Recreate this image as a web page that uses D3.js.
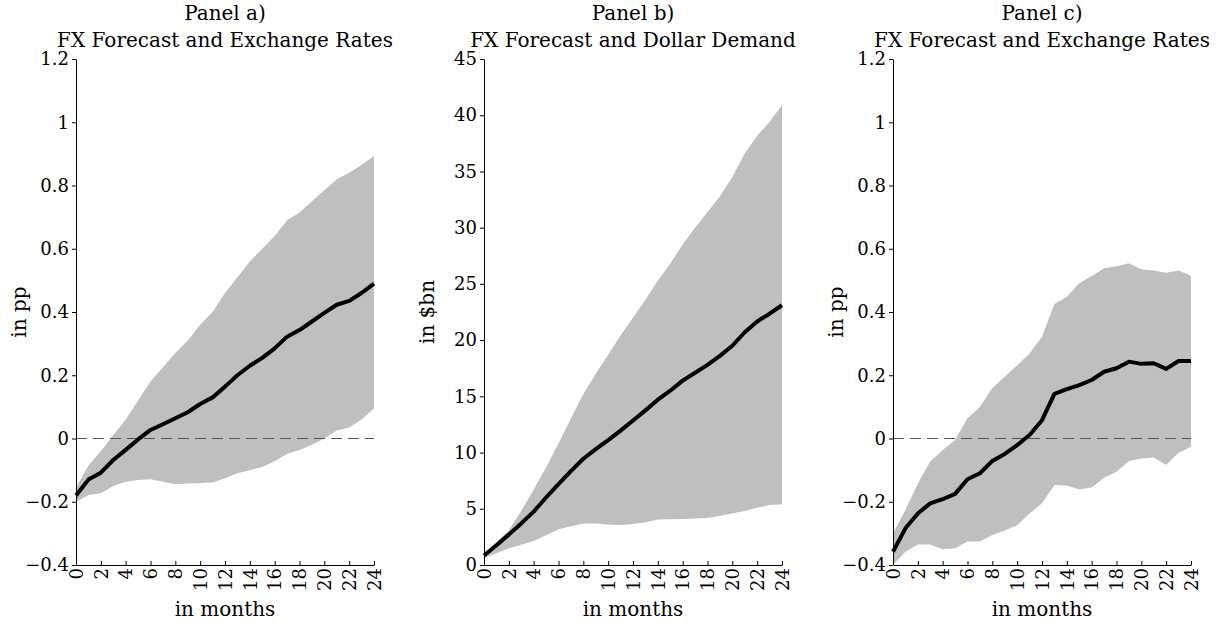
<!DOCTYPE html>
<html>
<head>
<meta charset="utf-8">
<script src="https://cdn.jsdelivr.net/npm/d3@7"></script>
<style>
  body { margin: 0; background: #fff; }
  text { font-family: "DejaVu Serif", serif; fill: #000; }
</style>
</head>
<body>
<div id="chart"></div>
<script>
// horizon in months
var months = d3.range(0, 25);

// Panel a) FX forecast shock -> exchange rate (pp)
var meanA  = [-0.18,-0.13,-0.108,-0.068,-0.036,-0.003,0.027,0.045,0.064,0.083,0.109,0.13,0.164,0.2,0.23,0.255,0.285,0.322,0.343,0.37,0.397,0.423,0.435,0.46,0.49];
var upperA = [-0.155,-0.085,-0.04,0.01,0.06,0.12,0.18,0.225,0.27,0.31,0.36,0.40,0.46,0.51,0.56,0.60,0.64,0.69,0.715,0.75,0.785,0.82,0.84,0.865,0.893];
var lowerA = [-0.2,-0.179,-0.173,-0.15,-0.137,-0.131,-0.129,-0.137,-0.145,-0.142,-0.141,-0.139,-0.126,-0.11,-0.1,-0.09,-0.072,-0.048,-0.036,-0.02,0.0,0.025,0.035,0.06,0.095];

// Panel b) FX forecast shock -> dollar demand ($bn)
var meanB  = [0.85,1.75,2.7,3.7,4.75,6.0,7.2,8.35,9.45,10.3,11.1,11.95,12.85,13.75,14.7,15.5,16.4,17.1,17.8,18.6,19.5,20.7,21.65,22.35,23.1];
var upperB = [1.0,2.0,3.1,4.8,6.7,8.7,10.8,13.0,15.2,17.0,18.7,20.4,22.0,23.6,25.3,26.8,28.5,30.0,31.4,32.8,34.5,36.6,38.2,39.4,40.9];
var lowerB = [0.6,1.05,1.48,1.8,2.13,2.65,3.17,3.45,3.7,3.7,3.6,3.56,3.65,3.8,4.04,4.07,4.1,4.14,4.18,4.37,4.57,4.8,5.1,5.33,5.4];

// Panel c) FX forecast shock -> exchange rate (pp), second specification
var meanC  = [-0.358,-0.284,-0.237,-0.205,-0.192,-0.175,-0.129,-0.11,-0.071,-0.049,-0.021,0.011,0.058,0.141,0.156,0.169,0.185,0.211,0.222,0.243,0.236,0.238,0.22,0.245,0.245];
var upperC = [-0.3,-0.226,-0.142,-0.073,-0.036,-0.005,0.064,0.1,0.16,0.195,0.232,0.269,0.322,0.425,0.448,0.491,0.514,0.538,0.545,0.554,0.535,0.531,0.524,0.531,0.515];
var lowerC = [-0.4,-0.358,-0.335,-0.335,-0.35,-0.347,-0.326,-0.326,-0.305,-0.291,-0.274,-0.237,-0.205,-0.147,-0.149,-0.161,-0.155,-0.124,-0.105,-0.071,-0.063,-0.06,-0.084,-0.045,-0.026];

var xTicks = d3.range(0, 25, 2);
var yTicksPP = [-0.4,-0.2,0,0.2,0.4,0.6,0.8,1,1.2];
var yTicksBn = [0,5,10,15,20,25,30,35,40,45];

var svg = d3.select("#chart").append("svg").attr("width", 1222).attr("height", 623);

function drawPanel(left, title1, title2, yLabel, yDomain, yTicks, mean, lower, upper, zeroLine) {
    var w = 298, top = 59, bottom = 565;
    var x = d3.scaleLinear().domain([0, 24]).range([left, left + w]);
    var y = d3.scaleLinear().domain(yDomain).range([bottom, top]);
    var g = svg.append("g");

    var band = d3.area()
        .x(function(d, i) { return x(months[i]); })
        .y0(function(d, i) { return y(lower[i]); })
        .y1(function(d, i) { return y(upper[i]); });
    g.append("path").datum(mean).attr("d", band).attr("fill", "#bfbfbf");

    if (zeroLine) {
        g.append("line")
            .attr("x1", x(0)).attr("x2", x(24))
            .attr("y1", y(0)).attr("y2", y(0))
            .attr("stroke", "#555").attr("stroke-width", 1)
            .attr("stroke-dasharray", "11,6");
    }

    var line = d3.line()
        .x(function(d, i) { return x(months[i]); })
        .y(function(d) { return y(d); });
    g.append("path").datum(mean).attr("d", line)
        .attr("fill", "none").attr("stroke", "#000").attr("stroke-width", 4)
        .attr("stroke-linejoin", "round");

    // y axis, ticks point outward
    var yAxis = g.append("g").attr("transform", "translate(" + left + ",0)")
        .call(d3.axisLeft(y).tickValues(yTicks).tickSize(4).tickSizeOuter(0).tickPadding(3)
            .tickFormat(function(d) { return d3.format("")(+d.toFixed(1)); }));
    // x axis, ticks point inward
    var xAxis = g.append("g").attr("transform", "translate(0," + bottom + ")")
        .call(d3.axisBottom(x).tickValues(xTicks).tickSize(-4).tickSizeOuter(0).tickPadding(0));
    xAxis.selectAll("text")
        .attr("transform", "rotate(-90)")
        .attr("text-anchor", "end")
        .attr("x", -3).attr("y", 0).attr("dy", "0.35em");

    [yAxis, xAxis].forEach(function(a) {
        a.selectAll("path, line").attr("stroke", "#000");
        a.selectAll("text").style("font-family", "DejaVu Serif").style("font-size", "18px").attr("fill", "#000");
    });

    var cx = left + w / 2;
    g.append("text").attr("x", cx).attr("y", 20).attr("text-anchor", "middle")
        .style("font-size", "20px").text(title1);
    g.append("text").attr("x", cx).attr("y", 47).attr("text-anchor", "middle")
        .style("font-size", "20px").text(title2);
    g.append("text").attr("x", cx).attr("y", 616).attr("text-anchor", "middle")
        .style("font-size", "20px").text("in months");
    g.append("text")
        .attr("transform", "translate(" + (left - 57) + "," + ((top + bottom) / 2) + ") rotate(-90)")
        .attr("text-anchor", "middle").attr("dy", "0.35em")
        .style("font-size", "20px").text(yLabel);
}

drawPanel(76, "Panel a)", "FX Forecast and Exchange Rates", "in pp", [-0.4, 1.2], yTicksPP, meanA, lowerA, upperA, true);
drawPanel(484, "Panel b)", "FX Forecast and Dollar Demand", "in $bn", [0, 45], yTicksBn, meanB, lowerB, upperB, false);
drawPanel(893, "Panel c)", "FX Forecast and Exchange Rates", "in pp", [-0.4, 1.2], yTicksPP, meanC, lowerC, upperC, true);
</script>
</body>
</html>
